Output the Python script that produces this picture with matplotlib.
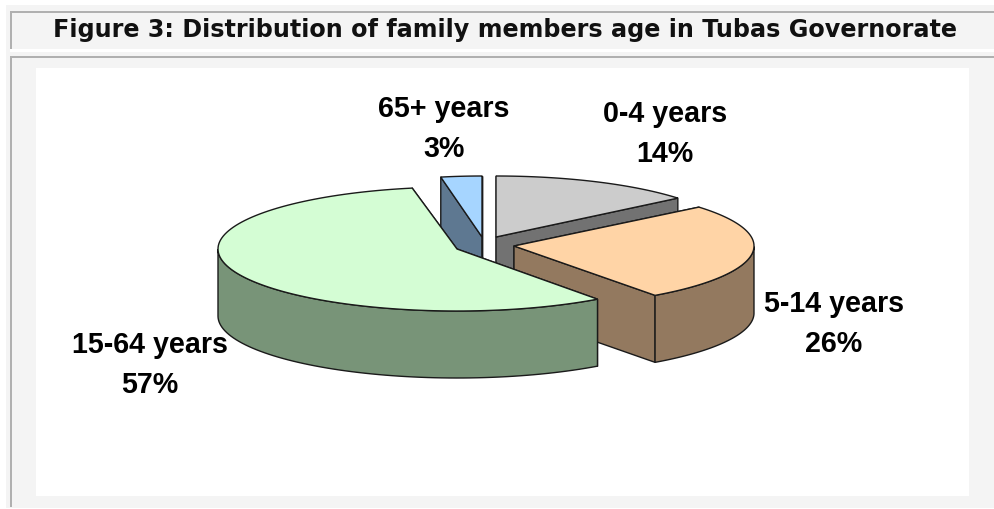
import numpy as np
import matplotlib
matplotlib.use('Agg')
import matplotlib.pyplot as plt
from matplotlib.patches import Polygon, Rectangle

title = 'Figure 3: Distribution of family members age in Tubas Governorate'
categories = ['0-4 years', '5-14 years', '15-64 years', '65+ years']
shares = [14, 26, 57, 3]

# look of each slice, in picture pixels
top_colors = ['#cccccc', '#ffd4a6', '#d4fdd4', '#a6d5ff']
side_colors = ['#727272', '#93795f', '#789478', '#5e7891']
centers = [(496, 238), (514, 247), (457, 250), (482, 238)]
radii_x = [236, 240, 239, 220]
radii_y = [61, 61, 62, 61]
depth = 67
label_pos = [(665, 122), (834, 312), (150, 353), (444, 117)]
line_gap = 40
draw_order = [3, 0, 1, 2]

edge = '#1a1a1a'
panel = '#f4f4f4'
border = '#b0b0b0'

fig = plt.figure(figsize=(9.95, 5.10), dpi=100)
ax = fig.add_axes([0, 0, 1, 1])
ax.set_xlim(0, 995)
ax.set_ylim(510, 0)
ax.axis('off')

# page furniture
ax.add_patch(Rectangle((6, 6), 989, 503, fc=panel, ec='none'))
ax.add_patch(Rectangle((10, 50), 985, 2.5, fc='white', ec='none'))
ax.add_patch(Rectangle((10, 12), 985, 2, fc=border, ec='none'))
ax.add_patch(Rectangle((10, 12), 2, 38, fc=border, ec='none'))
ax.add_patch(Rectangle((10, 57), 985, 2, fc=border, ec='none'))
ax.add_patch(Rectangle((10, 57), 2, 451, fc=border, ec='none'))
ax.add_patch(Rectangle((36, 69), 933, 428, fc='white', ec='none'))

ax.text(505, 30, title, ha='center', va='center', fontsize=17.2,
        fontweight='bold', family='DejaVu Sans', color='#111111')

# slice angles, clockwise from 12 o'clock
ends = np.cumsum(shares) / np.sum(shares) * 2 * np.pi
starts = np.r_[0, ends[:-1]]


def rim(i, a):
    cx, cy = centers[i]
    return cx + radii_x[i] * np.sin(a), cy - radii_y[i] * np.cos(a)


for i in draw_order:
    cx, cy = centers[i]
    a = np.linspace(starts[i], ends[i], 120)
    x, y = rim(i, a)

    # inner walls first, they are seen through the gap between slices
    for ang in (starts[i], ends[i]):
        ex, ey = rim(i, ang)
        wall = [(cx, cy), (ex, ey), (ex, ey + depth), (cx, cy + depth)]
        ax.add_patch(Polygon(wall, fc=side_colors[i], ec=edge, lw=1.0, joinstyle='round'))

    # outer wall, only the front half of the ellipse shows
    front = (a > np.pi / 2) & (a < 3 * np.pi / 2)
    if front.any():
        fx, fy = x[front], y[front]
        pts = np.r_[np.c_[fx, fy], np.c_[fx[::-1], fy[::-1] + depth]]
        ax.add_patch(Polygon(pts, fc=side_colors[i], ec=edge, lw=1.0))

    pts = np.r_[[(cx, cy)], np.c_[x, y]]
    ax.add_patch(Polygon(pts, fc=top_colors[i], ec=edge, lw=1.0))

for name, share, (lx, ly) in zip(categories, shares, label_pos):
    ax.text(lx, ly, name, ha='center', va='baseline', fontsize=20.6,
            fontweight='bold', family='Liberation Sans', color='black')
    ax.text(lx, ly + line_gap, f'{share}%', ha='center', va='baseline', fontsize=20.6,
            fontweight='bold', family='Liberation Sans', color='black')

fig.savefig('out.png', dpi=100)
